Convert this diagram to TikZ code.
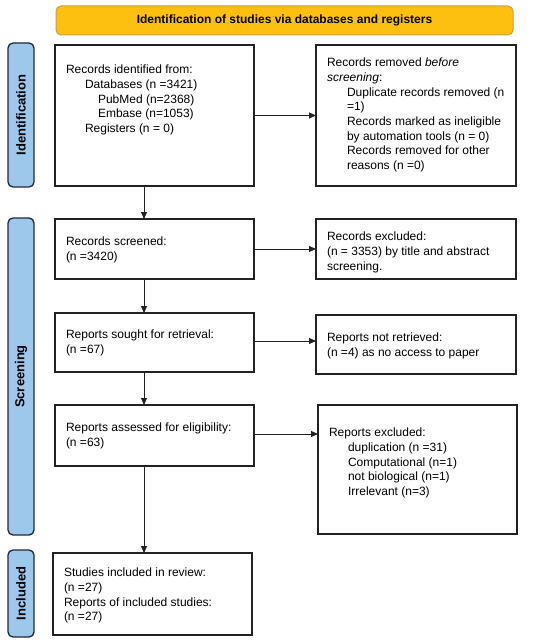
\documentclass[tikz,border=0pt]{standalone}
\usepackage{fontspec}
\setmainfont{Liberation Sans}
\usetikzlibrary{arrows.meta}
\definecolor{bannerfill}{HTML}{FDC010}
\definecolor{bannerdraw}{HTML}{C9A040}
\definecolor{sidefill}{HTML}{9DC8EB}
\definecolor{sidedraw}{HTML}{1F2A38}
\definecolor{boxdraw}{HTML}{222222}
\begin{document}
\begin{tikzpicture}[x=1pt,y=-1pt,
  every node/.style={inner sep=0pt, outer sep=0pt},
  flowbox/.style={draw=boxdraw, line width=1.3pt, fill=white, anchor=north west},
  boxtext/.style={anchor=north west, align=left, font=\fontsize{12}{14.7}\selectfont},
  sidelab/.style={draw=sidedraw, line width=1.3pt, fill=sidefill, rounded corners=5pt, anchor=north west, minimum width=26pt},
  sidetext/.style={rotate=90, font=\fontsize{13}{15}\selectfont\bfseries},
  flowarrow/.style={draw=boxdraw, line width=0.9pt, -{Triangle[length=7pt,width=6pt]}}
]
\useasboundingbox (0,0) rectangle (550,644);
\fill[white] (0,0) rectangle (550,644);

% banner
\node[draw=bannerdraw, line width=1pt, fill=bannerfill, rounded corners=5pt, anchor=north west,
  minimum width=457pt, minimum height=29pt, font=\fontsize{12}{14}\selectfont\bfseries] (banner) at (56,6)
  {Identification of studies via databases and registers};

% side labels
\node[sidelab, minimum height=144pt] (sid) at (8,43) {};
\node[sidetext] (tid) at (sid.center) {Identification};
\node[sidelab, minimum height=317pt] (ssc) at (8,218) {};
\node[sidetext] (tsc) at (ssc.center) {Screening};
\node[sidelab, minimum height=87pt] (sin) at (8,550) {};
\node[sidetext] (tin) at (sin.center) {Included};

% left column boxes
\node[flowbox, minimum width=199pt, minimum height=141pt] (b1) at (55,45) {};
\node[flowbox, minimum width=199pt, minimum height=60pt] (b2) at (55,219) {};
\node[flowbox, minimum width=199pt, minimum height=59pt] (b3) at (55,313) {};
\node[flowbox, minimum width=199pt, minimum height=61pt] (b4) at (55,405) {};
\node[flowbox, minimum width=199pt, minimum height=82pt] (b5) at (53,553) {};

% right column boxes
\node[flowbox, minimum width=200pt, minimum height=141pt] (r1) at (316,45) {};
\node[flowbox, minimum width=200pt, minimum height=60pt] (r2) at (316,219) {};
\node[flowbox, minimum width=200pt, minimum height=59pt] (r3) at (316,315) {};
\node[flowbox, minimum width=199pt, minimum height=129pt] (r4) at (318,405) {};

% texts
\node[boxtext] (t1) at (66,65) {Records identified from:\\
\hspace*{19pt}Databases (n =3421)\\
\hspace*{32pt}PubMed (n=2368)\\
\hspace*{32pt}Embase (n=1053)\\
\hspace*{19pt}Registers (n = 0)};
\node[boxtext] (u1) at (327,58) {Records removed \textit{before}\\
\textit{screening}:\\
\hspace*{20pt}Duplicate records removed (n\\
\hspace*{20pt}=1)\\
\hspace*{20pt}Records marked as ineligible\\
\hspace*{20pt}by automation tools (n = 0)\\
\hspace*{20pt}Records removed for other\\
\hspace*{20pt}reasons (n =0)};
\node[boxtext] (t2) at (66,237) {Records screened:\\(n =3420)};
\node[boxtext] (u2) at (327,232) {Records excluded:\\(n = 3353) by title and abstract\\screening.};
\node[boxtext] (t3) at (66,330) {Reports sought for retrieval:\\(n =67)};
\node[boxtext] (u3) at (327,333) {Reports not retrieved:\\(n =4) as no access to paper};
\node[boxtext] (t4) at (66,423) {Reports assessed for eligibility:\\(n =63)};
\node[boxtext] (u4) at (329,428) {Reports excluded:\\
\hspace*{19pt}duplication (n =31)\\
\hspace*{19pt}Computational (n=1)\\
\hspace*{19pt}not biological (n=1)\\
\hspace*{19pt}Irrelevant (n=3)};
\node[boxtext] (t5) at (64,568) {Studies included in review:\\(n =27)\\Reports of included studies:\\(n =27)};

% connectors
\draw[flowarrow] (b1.south -| 144,0) -- (b2.north -| 144,0);
\draw[flowarrow] (b2.south -| 144,0) -- (b3.north -| 144,0);
\draw[flowarrow] (b3.south -| 144,0) -- (b4.north -| 144,0);
\draw[flowarrow] (b4.south -| 144,0) -- (b5.north -| 144,0);
\draw[flowarrow] (b1.east) -- (b1.east -| r1.west);
\draw[flowarrow] (b2.east) -- (b2.east -| r2.west);
\draw[flowarrow] ([yshift=1.5pt]b3.east) -- ([yshift=1.5pt]b3.east -| r3.west);
\draw[flowarrow] ([yshift=1.5pt]b4.east) -- ([yshift=1.5pt]b4.east -| r4.west);
\end{tikzpicture}
\end{document}
